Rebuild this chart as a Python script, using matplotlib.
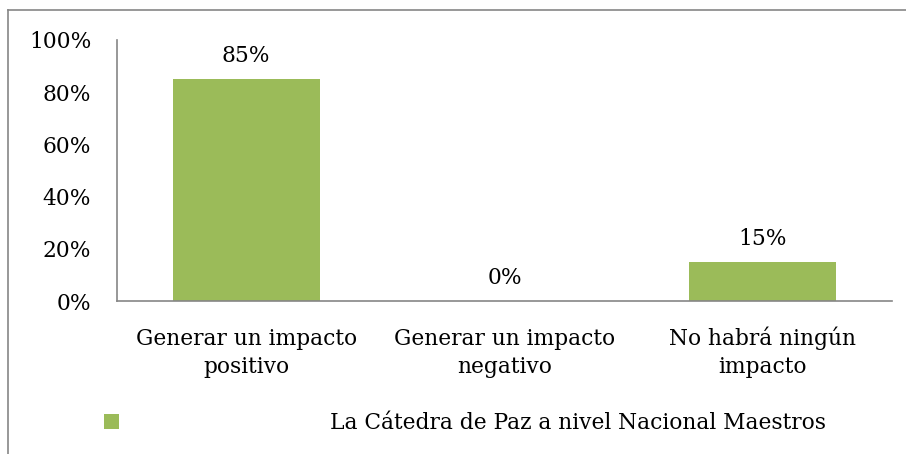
import matplotlib
matplotlib.use("Agg")
import matplotlib.pyplot as plt
from matplotlib.lines import Line2D
from matplotlib.patches import Patch

categories = ["Generar un impacto\npositivo", "Generar un impacto\nnegativo", "No habrá ningún\nimpacto"]
values = [85, 0, 15]
series_name = "La Cátedra de Paz a nivel Nacional Maestros"
yticks = [0, 20, 40, 60, 80, 100]
ytick_labels = ["0%", "20%", "40%", "60%", "80%", "100%"]

plt.rcParams['font.family'] = ['DejaVu Serif']
FS = 15.7
bar_color = "#9BBB59"
spine_color = "#868686"

fig = plt.figure(figsize=(9.06, 4.54), dpi=100)
ax = fig.add_axes([117/906, 1-301/454, (892-117)/906, (301-40)/454])

x = list(range(len(categories)))
bars = ax.bar(x, values, width=0.57, color=bar_color, label=series_name)
ax.set_xlim(-0.5, len(categories)-0.5)
ax.set_ylim(0, 100)
ax.set_yticks(yticks)
ax.set_yticklabels(ytick_labels, fontsize=FS)
ax.set_xticks(x)
ax.set_xticklabels(categories, fontsize=FS, linespacing=1.37)
for lbl in ax.get_xticklabels():
    lbl.set_verticalalignment('baseline')
ax.tick_params(axis='both', length=0)
ax.tick_params(axis='y', pad=18.5)
ax.tick_params(axis='x', pad=51.8)
for s in ['top', 'right']:
    ax.spines[s].set_visible(False)
for s in ['left', 'bottom']:
    ax.spines[s].set_color(spine_color)
    ax.spines[s].set_linewidth(1.2)

for xi, v in zip(x, values):
    ax.annotate(f"{v}%", (xi, v), xytext=(0, 12), textcoords='offset points',
                ha='center', va='baseline', fontsize=FS)

handle = Patch(facecolor=bar_color, edgecolor='none')
fig.legend([handle], [series_name], loc='center left',
           bbox_to_anchor=(104/906, 1-423/454), frameon=False, fontsize=FS,
           handlelength=0.68, handleheight=0.68, handletextpad=9.7, borderpad=0, borderaxespad=0)

# outer chart frame
fig.add_artist(Line2D([8/906, 1.0], [1-10/454, 1-10/454], transform=fig.transFigure, color=spine_color, lw=1.2))
fig.add_artist(Line2D([8/906, 8/906], [0, 1-10/454], transform=fig.transFigure, color=spine_color, lw=1.2))

fig.savefig("out.png", dpi=100)
